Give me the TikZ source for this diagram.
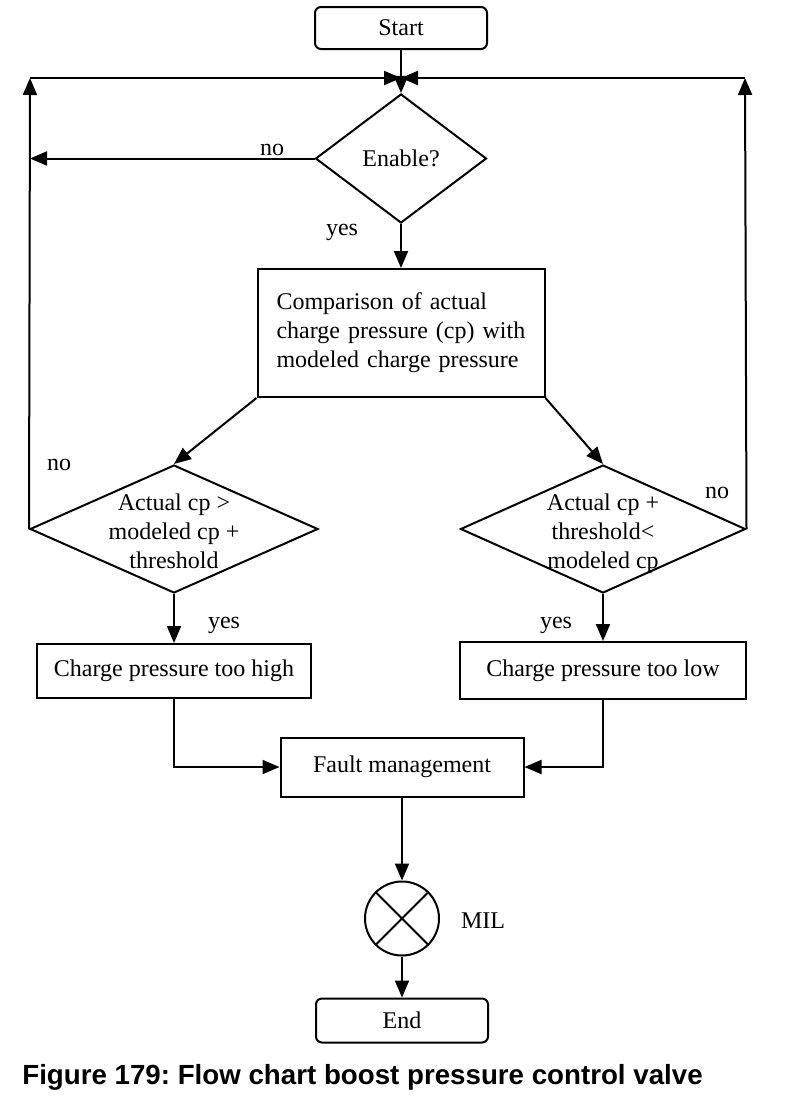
\documentclass[tikz,border=0pt]{standalone}
\usepackage{fontspec}
\setmainfont{Liberation Serif}
\newfontfamily\captionfont{Liberation Sans}
\usetikzlibrary{arrows.meta, positioning, shapes.geometric}
\frenchspacing
\newcommand{\flatlines}[1]{\makebox[0pt]{\raisebox{-11pt}[0pt][0pt]{\begin{tabular}{@{}c@{}}#1\end{tabular}}}}

\begin{document}
\begin{tikzpicture}[x=1pt,y=-1pt,>={Triangle[length=17pt,width=14pt]},line width=2pt,
    font=\fontsize{24}{29}\selectfont]
    \useasboundingbox (0,0) rectangle (800,1106);
    \begin{scope}[every node/.style={draw,inner sep=0pt}]
      \node [rounded corners=6pt, minimum width=172pt, minimum height=42pt] (start) at (401,28) {Start};
      \node [diamond, minimum width=171pt, minimum height=129pt, below=43pt of start] (enable) {Enable?};
      \node [minimum width=287pt, minimum height=128pt, text width=249pt, inner xsep=19pt, align=left,
        below=44pt of enable] (compare) {Comparison of actual\\charge pressure (cp) with\\modeled charge pressure};
      \node [diamond, minimum width=288pt, minimum height=128pt] (high) at (174,529)
        {\flatlines{Actual cp >\\modeled cp +\\threshold}};
      \node [diamond, minimum width=285pt, minimum height=128pt] (low) at (603,529)
        {\flatlines{Actual cp +\\threshold<\\modeled cp}};
      \node [minimum width=274pt, minimum height=54pt, below=49pt of high] (toohigh) {Charge pressure too high};
      \node [minimum width=286pt, minimum height=57pt, below=47pt of low] (toolow) {Charge pressure too low};
      \node [minimum width=243pt, minimum height=59pt] (fault) at (402,767) {Fault management};
      \node [circle, minimum size=74pt, below=83pt of fault] (mil) {};
      \node [rounded corners=6pt, minimum width=172pt, minimum height=44pt, below=41pt of mil] (end) {End};
    \end{scope}
    \coordinate (merge) at (401,78);
    \coordinate (leftup) at (30,78);
    \coordinate (rightup) at (745,78);

    \node [anchor=base] (noenable) at (272,155) {no};
    \node [anchor=base] (yesenable) at (342,235) {yes};
    \node [anchor=base] (nohigh) at (59,470) {no};
    \node [anchor=base] (nolow) at (717,498) {no};
    \node [anchor=base] (yeshigh) at (224,628) {yes};
    \node [anchor=base] (yeslow) at (556,628) {yes};
    \node [anchor=base] (miltext) at (483,928) {MIL};
    \node [anchor=base west, font=\captionfont\bfseries\fontsize{27.7}{33}\selectfont] (caption) at (18,1084)
      {Figure 179: Flow chart boost pressure control valve};

    \draw [->] (start) -- (enable);
    \draw [->] (leftup) -- (merge);
    \draw [->] (rightup) -- (merge);
    \draw [->] (enable.west) -- (enable.west -| leftup);
    \draw [->] (enable) -- (compare);
    \draw [->] (compare.south west) -- (high.north);
    \draw [->] (compare.south east) -- (low.north);
    \draw [->] (high.west) -- (leftup);
    \draw [->] (low.east) -- (rightup);
    \draw [->] (high) -- (toohigh);
    \draw [->] (low) -- (toolow);
    \draw [->] (toohigh) |- (fault);
    \draw [->] (toolow) |- (fault);
    \draw [->] (fault) -- (mil);
    \draw [->] (mil) -- (end);
    \draw (mil.north west) -- (mil.south east) (mil.north east) -- (mil.south west);
  \end{tikzpicture}
\end{document}
